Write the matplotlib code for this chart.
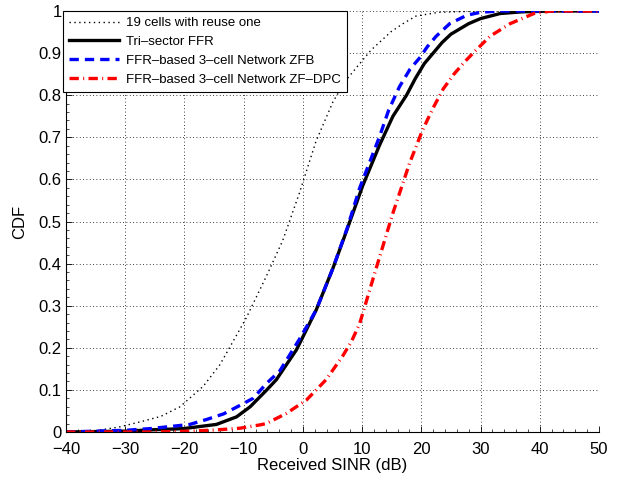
import numpy as np
import matplotlib
matplotlib.use("Agg")
import matplotlib.pyplot as plt
from matplotlib.ticker import MultipleLocator, FixedLocator

plt.rcParams['font.family'] = ['Liberation Sans', 'DejaVu Sans']

# --- data (SINR in dB, CDF) ---
reuse_x = [-40, -35, -31, -27.5, -24, -20.75, -16.8, -14, -11.8, -9.6, -6.2, -3.4,
           -0.6, 2.2, 5.1, 7.3, 9.6, 11.5, 14.9, 16.9, 19.1, 23, 30, 50]
reuse_y = [0, 0.003, 0.012, 0.024, 0.037, 0.06, 0.109, 0.16, 0.215, 0.27, 0.369, 0.455,
           0.567, 0.69, 0.785, 0.836, 0.875, 0.907, 0.951, 0.97, 0.988, 0.997, 1, 1]

tri_x = [-40, -30, -25.8, -20.2, -14.6, -11.2, -8.9, -6.1, -4.5, -1.1, 0, 2.25, 5.1,
         7.3, 10.1, 12.9, 15.2, 17.5, 19, 20.5, 22, 23.5, 25, 28, 30, 33.3, 37, 42, 50]
tri_y = [0, 0.002, 0.005, 0.008, 0.018, 0.036, 0.06, 0.1, 0.124, 0.195, 0.226, 0.29, 0.39,
         0.475, 0.585, 0.68, 0.75, 0.80, 0.84, 0.875, 0.90, 0.925, 0.945, 0.97, 0.982,
         0.994, 0.998, 1, 1]

zfb_x = [-40, -30, -25.8, -22.4, -19.1, -16.2, -13.4, -11.2, -8.4, -6.1, -3.9, -0.6, 2.25,
         5.1, 7.5, 9.6, 12.9, 14.5, 16.3, 18.1, 19.8, 21, 22.5, 24.8, 27.7, 30, 33, 50]
zfb_y = [0, 0.004, 0.008, 0.013, 0.018, 0.03, 0.043, 0.059, 0.08, 0.116, 0.145, 0.22, 0.29,
         0.39, 0.485, 0.58, 0.70, 0.765, 0.82, 0.862, 0.89, 0.915, 0.94, 0.97, 0.99,
         0.997, 1, 1]

dpc_x = [-40, -25, -19, -14.6, -10.6, -7.2, -6.2, -2.8, 0.6, 3.9, 6.7, 8.2, 9.6, 12.4, 15.2,
         18, 20.2, 22, 23.7, 25.5, 27.5, 29.3, 31.6, 35, 39, 42, 50]
dpc_y = [0, 0, 0.002, 0.005, 0.009, 0.017, 0.02, 0.044, 0.076, 0.124, 0.18, 0.215, 0.258,
         0.39, 0.52, 0.638, 0.717, 0.77, 0.815, 0.85, 0.882, 0.908, 0.94, 0.97, 0.994, 1, 1]

labels = ["19 cells with reuse one", "Tri\u2013sector FFR",
          "FFR\u2013based 3\u2013cell Network ZFB",
          "FFR\u2013based 3\u2013cell Network ZF\u2013DPC"]
xticks = list(range(-40, 51, 10))
yticks = [round(0.1 * i, 1) for i in range(11)]
ytick_labels = ["0", "0.1", "0.2", "0.3", "0.4", "0.5", "0.6", "0.7", "0.8", "0.9", "1"]

fig = plt.figure(figsize=(6.18, 4.78), dpi=100)
ax = fig.add_axes([66 / 618, 46 / 478, 533 / 618, 421 / 478])

ax.plot(reuse_x, reuse_y, color='black', lw=1.0, linestyle=(0, (1, 2.5)), label=labels[0])
ax.plot(tri_x, tri_y, color='black', lw=2.4, linestyle='-', label=labels[1])
ax.plot(zfb_x, zfb_y, color='blue', lw=2.4, linestyle=(0, (2.8, 1.8)), label=labels[2])
ax.plot(dpc_x, dpc_y, color='red', lw=2.4, linestyle=(0, (2.8, 1.3, 0.3, 1.3)), label=labels[3])

ax.set_xlim(-40, 50)
ax.set_ylim(0, 1)
ax.xaxis.set_major_locator(FixedLocator(xticks))
ax.yaxis.set_major_locator(FixedLocator(yticks))
ax.set_yticklabels(ytick_labels)
ax.xaxis.set_minor_locator(MultipleLocator(2))
ax.yaxis.set_minor_locator(MultipleLocator(0.02))
ax.tick_params(which='both', direction='in', labelsize=12, top=False, right=False)
ax.tick_params(which='major', length=4, width=0.6)
ax.tick_params(axis='x', which='major', pad=7)
ax.tick_params(axis='y', which='major', pad=3)
ax.tick_params(which='minor', length=2, width=0.5)

ax.grid(True, which='major', color='black', linestyle=(0, (1, 3)), linewidth=0.6)
ax.spines['top'].set_visible(False)
ax.spines['right'].set_visible(False)
for s in ('left', 'bottom'):
    ax.spines[s].set_linewidth(0.8)

ax.set_xlabel("Received SINR (dB)", fontsize=12, labelpad=1)
ax.set_ylabel("CDF", fontsize=12, labelpad=8)

leg = ax.legend(loc='upper left', bbox_to_anchor=(-0.005, 1.0), borderaxespad=0,
                fontsize=9.5, handlelength=3.8, handletextpad=0.5, labelspacing=0.5,
                borderpad=0.45, fancybox=False, framealpha=1, edgecolor='black')
leg.get_frame().set_linewidth(0.8)

fig.savefig("out.png", dpi=100)
